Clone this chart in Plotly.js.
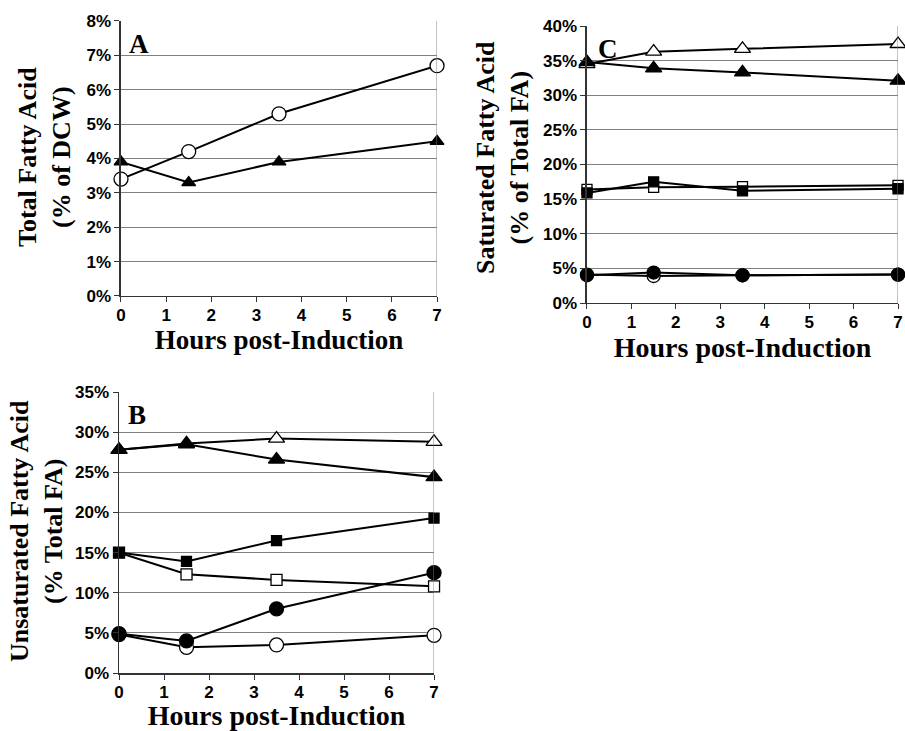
<!DOCTYPE html>
<html>
<head>
<meta charset="utf-8">
<script src="https://cdn.plot.ly/plotly-3.0.1.min.js"></script>
<style>html,body{margin:0;padding:0;background:#fff;}#chart{width:905px;height:731px;}</style>
</head>
<body>
<div id="chart"></div>
<script>
// ---- data ----
var hours = [0, 1.5, 3.5, 7];
var xTicks = [0, 1, 2, 3, 4, 5, 6, 7];
var yTicksA = [0, 1, 2, 3, 4, 5, 6, 7, 8];
var yTicksB = [0, 5, 10, 15, 20, 25, 30, 35];
var yTicksC = [0, 5, 10, 15, 20, 25, 30, 35, 40];

// Panel A: Total fatty acid (% of DCW)
var A_openCircle = [3.4, 4.2, 5.3, 6.7];
var A_filledTriangle = [3.9, 3.3, 3.9, 4.5];

// Panel B: Unsaturated fatty acid (% total FA)
var B_openTriangle = [27.8, 28.6, 29.2, 28.8];
var B_filledTriangle = [27.8, 28.5, 26.6, 24.4];
var B_openSquare = [15.0, 12.3, 11.6, 10.8];
var B_filledSquare = [15.0, 13.9, 16.5, 19.3];
var B_openCircle = [4.8, 3.2, 3.5, 4.7];
var B_filledCircle = [4.9, 4.0, 8.0, 12.5];

// Panel C: Saturated fatty acid (% of total FA)
var C_openTriangle = [34.5, 36.3, 36.7, 37.4];
var C_filledTriangle = [34.8, 33.9, 33.3, 32.1];
var C_openSquare = [16.4, 16.7, 16.8, 17.0];
var C_filledSquare = [15.9, 17.5, 16.2, 16.5];
var C_openCircle = [4.1, 3.9, 4.0, 4.1];
var C_filledCircle = [4.0, 4.4, 4.0, 4.1];

// ---- styling helpers ----
function tr(y, xa, ya, symbol, open, size) {
  return {
    x: hours, y: y, xaxis: xa, yaxis: ya,
    type: 'scatter', mode: 'lines+markers', cliponaxis: false,
    showlegend: false, hoverinfo: 'x+y',
    line: {color: '#000', width: 2},
    marker: {symbol: symbol, size: size, color: open ? '#fff' : '#000',
             line: {color: '#000', width: 1.3}}
  };
}

var data = [
  tr(A_openCircle, 'x', 'y', 'circle', true, 14),
  tr(A_filledTriangle, 'x', 'y', 'triangle-up', false, 12),

  tr(C_openTriangle, 'x2', 'y2', 'triangle-up', true, 14),
  tr(C_filledTriangle, 'x2', 'y2', 'triangle-up', false, 14),
  tr(C_openSquare, 'x2', 'y2', 'square', true, 10),
  tr(C_filledSquare, 'x2', 'y2', 'square', false, 10),
  tr(C_openCircle, 'x2', 'y2', 'circle', true, 13),
  tr(C_filledCircle, 'x2', 'y2', 'circle', false, 13),

  tr(B_openTriangle, 'x3', 'y3', 'triangle-up', true, 14),
  tr(B_filledTriangle, 'x3', 'y3', 'triangle-up', false, 14),
  tr(B_openSquare, 'x3', 'y3', 'square', true, 11),
  tr(B_filledSquare, 'x3', 'y3', 'square', false, 10),
  tr(B_openCircle, 'x3', 'y3', 'circle', true, 14),
  tr(B_filledCircle, 'x3', 'y3', 'circle', false, 14)
];

var tickFont = {family: 'Liberation Sans, Arial, sans-serif', size: 17, color: '#000', weight: 700};
var serif = 'Liberation Serif, Times New Roman, serif';
function bold(v, suffix) { return v.map(function (t) { return '<b>' + t + suffix + '</b>'; }); }

function xax(domain, anchor, tsize) {
  return {
    domain: domain, anchor: anchor, range: [0, 7], tickvals: xTicks, ticktext: bold(xTicks, ''),
    showgrid: false, zeroline: false, showline: true, linecolor: '#333', linewidth: 1.5,
    ticks: 'outside', ticklen: 5, tickcolor: '#333', tickwidth: 1,
    tickfont: tickFont, automargin: false, ticklabelstandoff: -2,
    title: {text: 'Hours post-Induction', font: {family: serif, size: tsize, color: '#000', weight: 700}, standoff: 5}
  };
}
function yax(domain, anchor, ticks) {
  return {
    domain: domain, anchor: anchor, range: [0, ticks[ticks.length - 1]],
    tickvals: ticks, ticktext: bold(ticks, '%'),
    showgrid: true, gridcolor: '#808080', gridwidth: 1, zeroline: false,
    showline: true, linecolor: '#333', linewidth: 1.5,
    ticks: 'outside', ticklen: 5, tickcolor: '#333', tickwidth: 1,
    tickfont: tickFont, automargin: false
  };
}

var letterFont = {family: serif, size: 27, color: '#000', weight: 700};
var yTitleFont = {family: serif, size: 26, color: '#000', weight: 700};

function yTitle(text, cx, cy) {
  return {text: text, xref: 'paper', yref: 'paper', x: cx / 905, y: 1 - cy / 731,
          xanchor: 'center', yanchor: 'middle', textangle: -90, showarrow: false,
          align: 'center', font: yTitleFont};
}

var layout = {
  width: 905, height: 731,
  margin: {l: 0, r: 0, t: 0, b: 0},
  paper_bgcolor: '#fff', plot_bgcolor: '#fff',
  xaxis: xax([0.1337, 0.4829], 'y', 27),
  yaxis: yax([0.5951, 0.9713], 'x', yTicksA),
  xaxis2: xax([0.6486, 0.9923], 'y2', 28),
  yaxis2: yax([0.5855, 0.9644], 'x2', yTicksC),
  xaxis3: xax([0.1315, 0.4796], 'y3', 28),
  yaxis3: yax([0.0793, 0.4637], 'x3', yTicksB),
  shapes: [
    {type: 'line', xref: 'x', yref: 'y domain', x0: 7, x1: 7, y0: 0, y1: 1, line: {color: '#808080', width: 1}},
    {type: 'line', xref: 'x2', yref: 'y2 domain', x0: 7, x1: 7, y0: 0, y1: 1, line: {color: '#808080', width: 1}},
    {type: 'line', xref: 'x3', yref: 'y3 domain', x0: 7, x1: 7, y0: 0, y1: 1, line: {color: '#808080', width: 1}}
  ],
  annotations: [
    {text: 'A', xref: 'paper', yref: 'paper', x: 127 / 905, y: 1 - 27 / 731, xanchor: 'left', yanchor: 'top', showarrow: false, font: letterFont},
    {text: 'C', xref: 'paper', yref: 'paper', x: 596 / 905, y: 1 - 32 / 731, xanchor: 'left', yanchor: 'top', showarrow: false, font: letterFont},
    {text: 'B', xref: 'paper', yref: 'paper', x: 126 / 905, y: 1 - 398 / 731, xanchor: 'left', yanchor: 'top', showarrow: false, font: letterFont},
    yTitle('Total Fatty Acid<br>(% of DCW)', 44, 157),
    yTitle('Saturated Fatty Acid<br>(% of Total FA)', 502, 157),
    yTitle('Unsaturated Fatty Acid<br>(% Total FA)', 36, 531)
  ]
};

Plotly.newPlot('chart', data, layout, {displayModeBar: false, staticPlot: true});
</script>
</body>
</html>
